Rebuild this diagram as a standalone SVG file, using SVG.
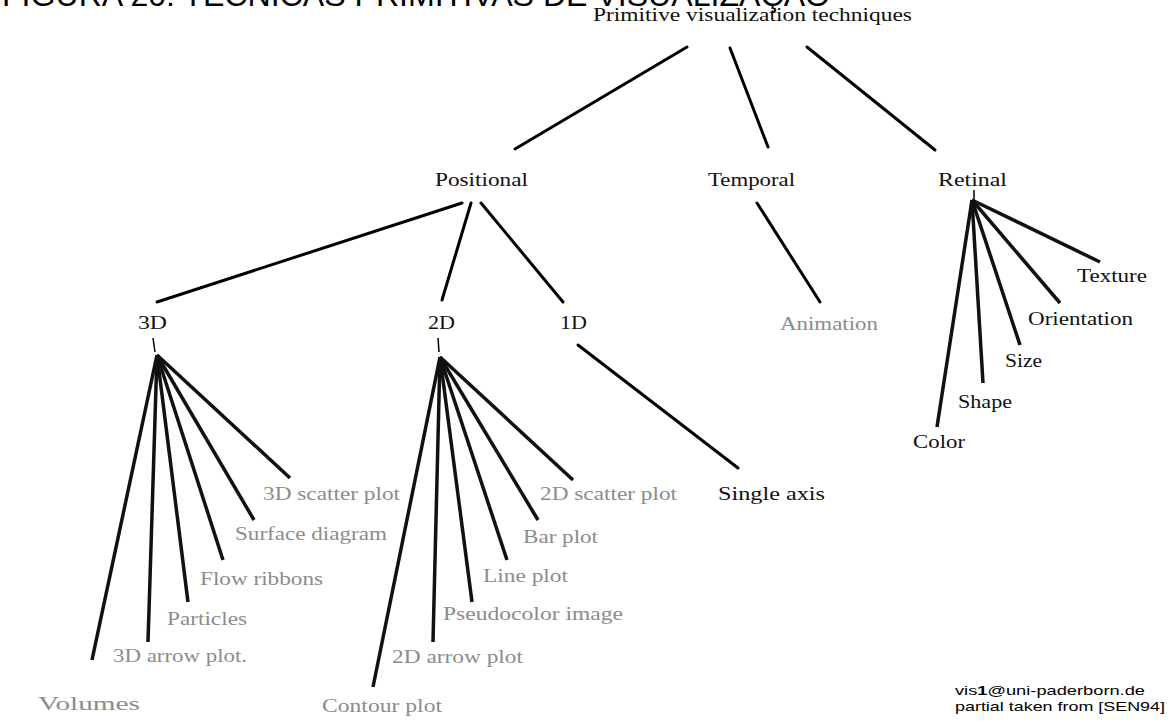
<svg xmlns="http://www.w3.org/2000/svg" width="1173" height="726" viewBox="0 0 1173 726">
  <style>
    .bg { fill: #ffffff; }
    .title { font-family: "Liberation Sans", Arial, sans-serif; font-size: 31px; fill: #000000; }
    .lbl { font-family: "Liberation Serif", "Times New Roman", serif; font-size: 19px; fill: #111111; }
    .leaf { font-family: "Liberation Serif", "Times New Roman", serif; font-size: 19px; fill: #8c8c8c; }
    .credit { font-family: "Liberation Sans", Arial, sans-serif; font-size: 13px; fill: #000000; }
    .edge { stroke: #000000; stroke-width: 3; stroke-linecap: round; fill: none; }
    .fan { stroke: #111111; stroke-width: 3.5; stroke-linecap: butt; fill: none; }
    .tick { stroke: #000000; stroke-width: 1.5; fill: none; }
  </style>
  <rect class="bg" x="0" y="0" width="1173" height="726"/>

  <text class="title" x="2" y="6" textLength="828" lengthAdjust="spacingAndGlyphs">FIGURA 20: TÉCNICAS PRIMITIVAS DE VISUALIZAÇÃO</text>

  <!-- connectors -->
  <g id="connectors">
    <!-- root to categories -->
    <line class="edge" x1="687" y1="47" x2="515" y2="149"/>
    <line class="edge" x1="730" y1="48" x2="768" y2="147"/>
    <line class="edge" x1="807" y1="47" x2="935" y2="150"/>
    <!-- positional -->
    <line class="edge" x1="462" y1="203" x2="157" y2="302"/>
    <line class="edge" x1="471" y1="203" x2="442" y2="300"/>
    <line class="edge" x1="481" y1="203" x2="563" y2="302"/>
    <!-- temporal -->
    <line class="edge" x1="757" y1="203" x2="820" y2="302"/>
    <!-- 1D -->
    <line class="edge" x1="578" y1="345" x2="738" y2="468"/>
    <!-- 3D fan -->
    <line class="tick" x1="153" y1="338" x2="155" y2="352"/>
    <line class="fan" x1="157" y1="355" x2="92" y2="660"/>
    <line class="fan" x1="157" y1="355" x2="148" y2="642"/>
    <line class="fan" x1="157" y1="355" x2="188" y2="602"/>
    <line class="fan" x1="157" y1="355" x2="223" y2="560"/>
    <line class="fan" x1="157" y1="355" x2="254" y2="520"/>
    <line class="fan" x1="157" y1="355" x2="290" y2="478"/>
    <!-- 2D fan -->
    <line class="tick" x1="438" y1="338" x2="439" y2="352"/>
    <line class="fan" x1="440" y1="357" x2="373" y2="687"/>
    <line class="fan" x1="440" y1="357" x2="433" y2="642"/>
    <line class="fan" x1="440" y1="357" x2="472" y2="602"/>
    <line class="fan" x1="440" y1="357" x2="507" y2="560"/>
    <line class="fan" x1="440" y1="357" x2="538" y2="520"/>
    <line class="fan" x1="440" y1="357" x2="573" y2="480"/>
    <!-- retinal fan -->
    <line class="tick" x1="974" y1="190" x2="974" y2="200"/>
    <line class="fan" x1="972" y1="200" x2="937" y2="427"/>
    <line class="fan" x1="972" y1="200" x2="983" y2="383"/>
    <line class="fan" x1="972" y1="200" x2="1020" y2="345"/>
    <line class="fan" x1="972" y1="200" x2="1060" y2="303"/>
    <line class="fan" x1="972" y1="200" x2="1100" y2="262"/>
  </g>

  <!-- nodes -->
  <g id="root"><text class="lbl" x="593" y="21" textLength="319" lengthAdjust="spacingAndGlyphs">Primitive visualization techniques</text></g>

  <g id="positional"><text class="lbl" x="435" y="186" textLength="93" lengthAdjust="spacingAndGlyphs">Positional</text></g>
  <g id="temporal"><text class="lbl" x="708" y="186" textLength="87" lengthAdjust="spacingAndGlyphs">Temporal</text></g>
  <g id="retinal"><text class="lbl" x="938" y="186" textLength="69" lengthAdjust="spacingAndGlyphs">Retinal</text></g>

  <g id="d3"><text class="lbl" x="138" y="329" textLength="29" lengthAdjust="spacingAndGlyphs">3D</text></g>
  <g id="d2"><text class="lbl" x="428" y="329" textLength="27" lengthAdjust="spacingAndGlyphs">2D</text></g>
  <g id="d1"><text class="lbl" x="560" y="329" textLength="27" lengthAdjust="spacingAndGlyphs">1D</text></g>

  <g id="animation"><text class="leaf" x="780" y="330" textLength="98" lengthAdjust="spacingAndGlyphs">Animation</text></g>
  <g id="single-axis"><text class="lbl" x="718" y="500" textLength="107" lengthAdjust="spacingAndGlyphs">Single axis</text></g>

  <!-- 3D techniques -->
  <g id="volumes"><text class="leaf" x="38" y="710" textLength="102" lengthAdjust="spacingAndGlyphs">Volumes</text></g>
  <g id="arrow3d"><text class="leaf" x="113" y="662" textLength="134" lengthAdjust="spacingAndGlyphs">3D arrow plot.</text></g>
  <g id="particles"><text class="leaf" x="167" y="625" textLength="80" lengthAdjust="spacingAndGlyphs">Particles</text></g>
  <g id="flow-ribbons"><text class="leaf" x="200" y="585" textLength="123" lengthAdjust="spacingAndGlyphs">Flow ribbons</text></g>
  <g id="surface-diagram"><text class="leaf" x="235" y="540" textLength="152" lengthAdjust="spacingAndGlyphs">Surface diagram</text></g>
  <g id="scatter3d"><text class="leaf" x="263" y="500" textLength="137" lengthAdjust="spacingAndGlyphs">3D scatter plot</text></g>

  <!-- 2D techniques -->
  <g id="contour-plot"><text class="leaf" x="322" y="712" textLength="120" lengthAdjust="spacingAndGlyphs">Contour plot</text></g>
  <g id="arrow2d"><text class="leaf" x="392" y="663" textLength="131" lengthAdjust="spacingAndGlyphs">2D arrow plot</text></g>
  <g id="pseudocolor"><text class="leaf" x="443" y="620" textLength="180" lengthAdjust="spacingAndGlyphs">Pseudocolor image</text></g>
  <g id="line-plot"><text class="leaf" x="483" y="582" textLength="85" lengthAdjust="spacingAndGlyphs">Line plot</text></g>
  <g id="bar-plot"><text class="leaf" x="523" y="543" textLength="75" lengthAdjust="spacingAndGlyphs">Bar plot</text></g>
  <g id="scatter2d"><text class="leaf" x="540" y="500" textLength="137" lengthAdjust="spacingAndGlyphs">2D scatter plot</text></g>

  <!-- retinal properties -->
  <g id="texture"><text class="lbl" x="1077" y="282" textLength="70" lengthAdjust="spacingAndGlyphs">Texture</text></g>
  <g id="orientation"><text class="lbl" x="1028" y="325" textLength="105" lengthAdjust="spacingAndGlyphs">Orientation</text></g>
  <g id="size"><text class="lbl" x="1005" y="367" textLength="37" lengthAdjust="spacingAndGlyphs">Size</text></g>
  <g id="shape"><text class="lbl" x="958" y="408" textLength="54" lengthAdjust="spacingAndGlyphs">Shape</text></g>
  <g id="color"><text class="lbl" x="913" y="448" textLength="52" lengthAdjust="spacingAndGlyphs">Color</text></g>

  <!-- credit -->
  <g id="credit">
    <text class="credit" x="955" y="695" textLength="190" lengthAdjust="spacingAndGlyphs">vis<tspan font-weight="bold">1</tspan>@uni-paderborn.de</text>
    <text class="credit" x="955" y="711" textLength="210" lengthAdjust="spacingAndGlyphs">partial taken from [SEN94]</text>
  </g>
</svg>
